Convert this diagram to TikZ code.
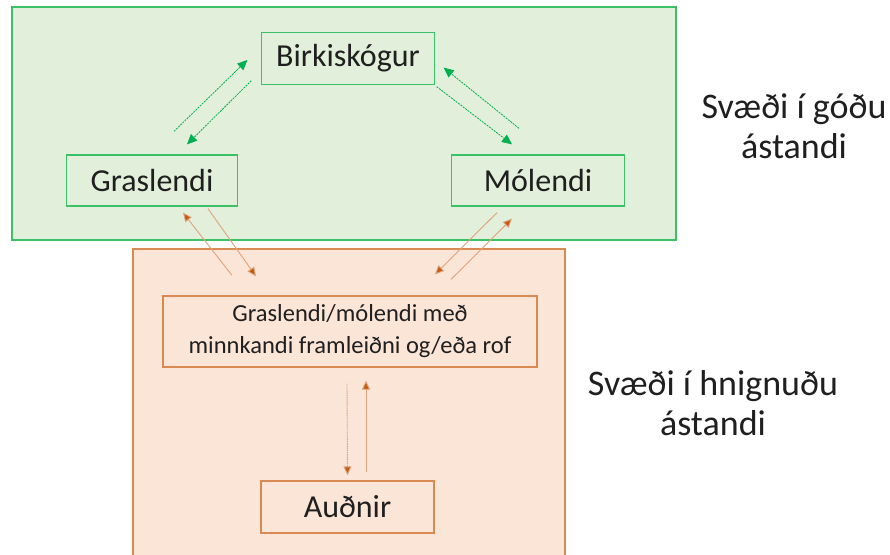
\documentclass[tikz,border=0pt]{standalone}
\usepackage{fontspec}
\setmainfont{Carlito}
\usetikzlibrary{arrows.meta}
\definecolor{gfill}{HTML}{E2EFDA}
\definecolor{gline}{HTML}{3CC266}
\definecolor{garrow}{HTML}{00B050}
\definecolor{ofill}{HTML}{FBE5D6}
\definecolor{oline}{HTML}{D98A52}
\definecolor{oarrowline}{HTML}{DDA47C}
\definecolor{ohead}{HTML}{C55A11}
\definecolor{txt}{HTML}{1F1F1F}
\tikzset{
  gbox/.style={draw=gline, line width=1.3pt, fill=gfill, minimum width=173pt, minimum height=52pt, inner sep=0pt, font=\fontsize{32}{36}\selectfont, text=txt},
  obox/.style={draw=oline, line width=1.3pt, fill=ofill, inner sep=0pt, text=txt},
  garr/.style={draw=garrow, line width=0.8pt, dash pattern=on 2pt off 1pt, -{Triangle[length=10pt,width=9pt]}, garrow},
  oarr/.style={draw=oarrowline, line width=0.9pt, -{Triangle[length=9pt,width=8pt,fill=ohead]}, color=oarrowline},
  lbl/.style={align=center, font=\fontsize{36}{40}\selectfont, text=txt}
}
\begin{document}
\begin{tikzpicture}[x=1pt,y=-1pt]
\useasboundingbox (0,0) rectangle (890,554);
\fill[white] (0,0) rectangle (890,554);
% regions
\draw[draw=gline, line width=1.8pt, fill=gfill] (12,7) rectangle (676,240);
\begin{scope}
\clip (0,0) rectangle (890,554);
\draw[draw=oline, line width=1.5pt, fill=ofill] (133,249) rectangle (565,560);
\end{scope}
% nodes
\node[gbox] (bir) at (348,58.5) {Birkiskógur};
\node[gbox, minimum width=171pt, minimum height=51pt] (gras) at (152,180.5) {Graslendi};
\node[gbox, minimum height=51pt] (mol) at (538,180.5) {Mólendi};
\node[obox, minimum width=374pt, minimum height=71pt, align=center, font=\fontsize{24.5}{32}\selectfont] (inner) at (350,331.5) {Graslendi/mólendi með\\minnkandi framleiðni og/eða rof};
\node[obox, minimum width=173pt, minimum height=52pt, font=\fontsize{32}{36}\selectfont] (aud) at (347.5,507) {Auðnir};
% labels
\node[lbl] (good) at (794,126) {Svæði í góðu\\ástandi};
\node[lbl] (bad) at (713,403) {Svæði í hnignuðu\\ástandi};
% green arrows
\draw[garr] ([shift={(22,-23)}]gras.north) -- ([shift={(-13.5,1.5)}]bir.west);
\draw[garr] ([shift={(-9.5,-4.5)}]bir.south west) -- ([shift={(35,-10)}]gras.north);
\draw[garr] ([shift={(-19,-26)}]mol.north) -- ([shift={(8.5,-17.5)}]bir.south east);
\draw[garr] ([shift={(1.5,1.5)}]bir.south east) -- ([shift={(-26,-10)}]mol.north);
% orange arrows
\draw[oarr] ([shift={(-118,-20)}]inner.north) -- ([shift={(31,6)}]gras.south);
\draw[oarr] ([shift={(56,2)}]gras.south) -- ([shift={(-94,-19)}]inner.north);
\draw[oarr] ([shift={(-41,6)}]mol.south) -- ([shift={(85,-21)}]inner.north);
\draw[oarr] ([shift={(101,-16)}]inner.north) -- ([shift={(-26,12)}]mol.south);
\draw[oarr, dash pattern=on 1.5pt off 0.7pt] ([shift={(-3,16)}]inner.south) -- ([shift={(0,-5)}]aud.north);
\draw[oarr] ([shift={(18.5,-8)}]aud.north) -- ([shift={(16,13)}]inner.south);
\end{tikzpicture}
\end{document}
